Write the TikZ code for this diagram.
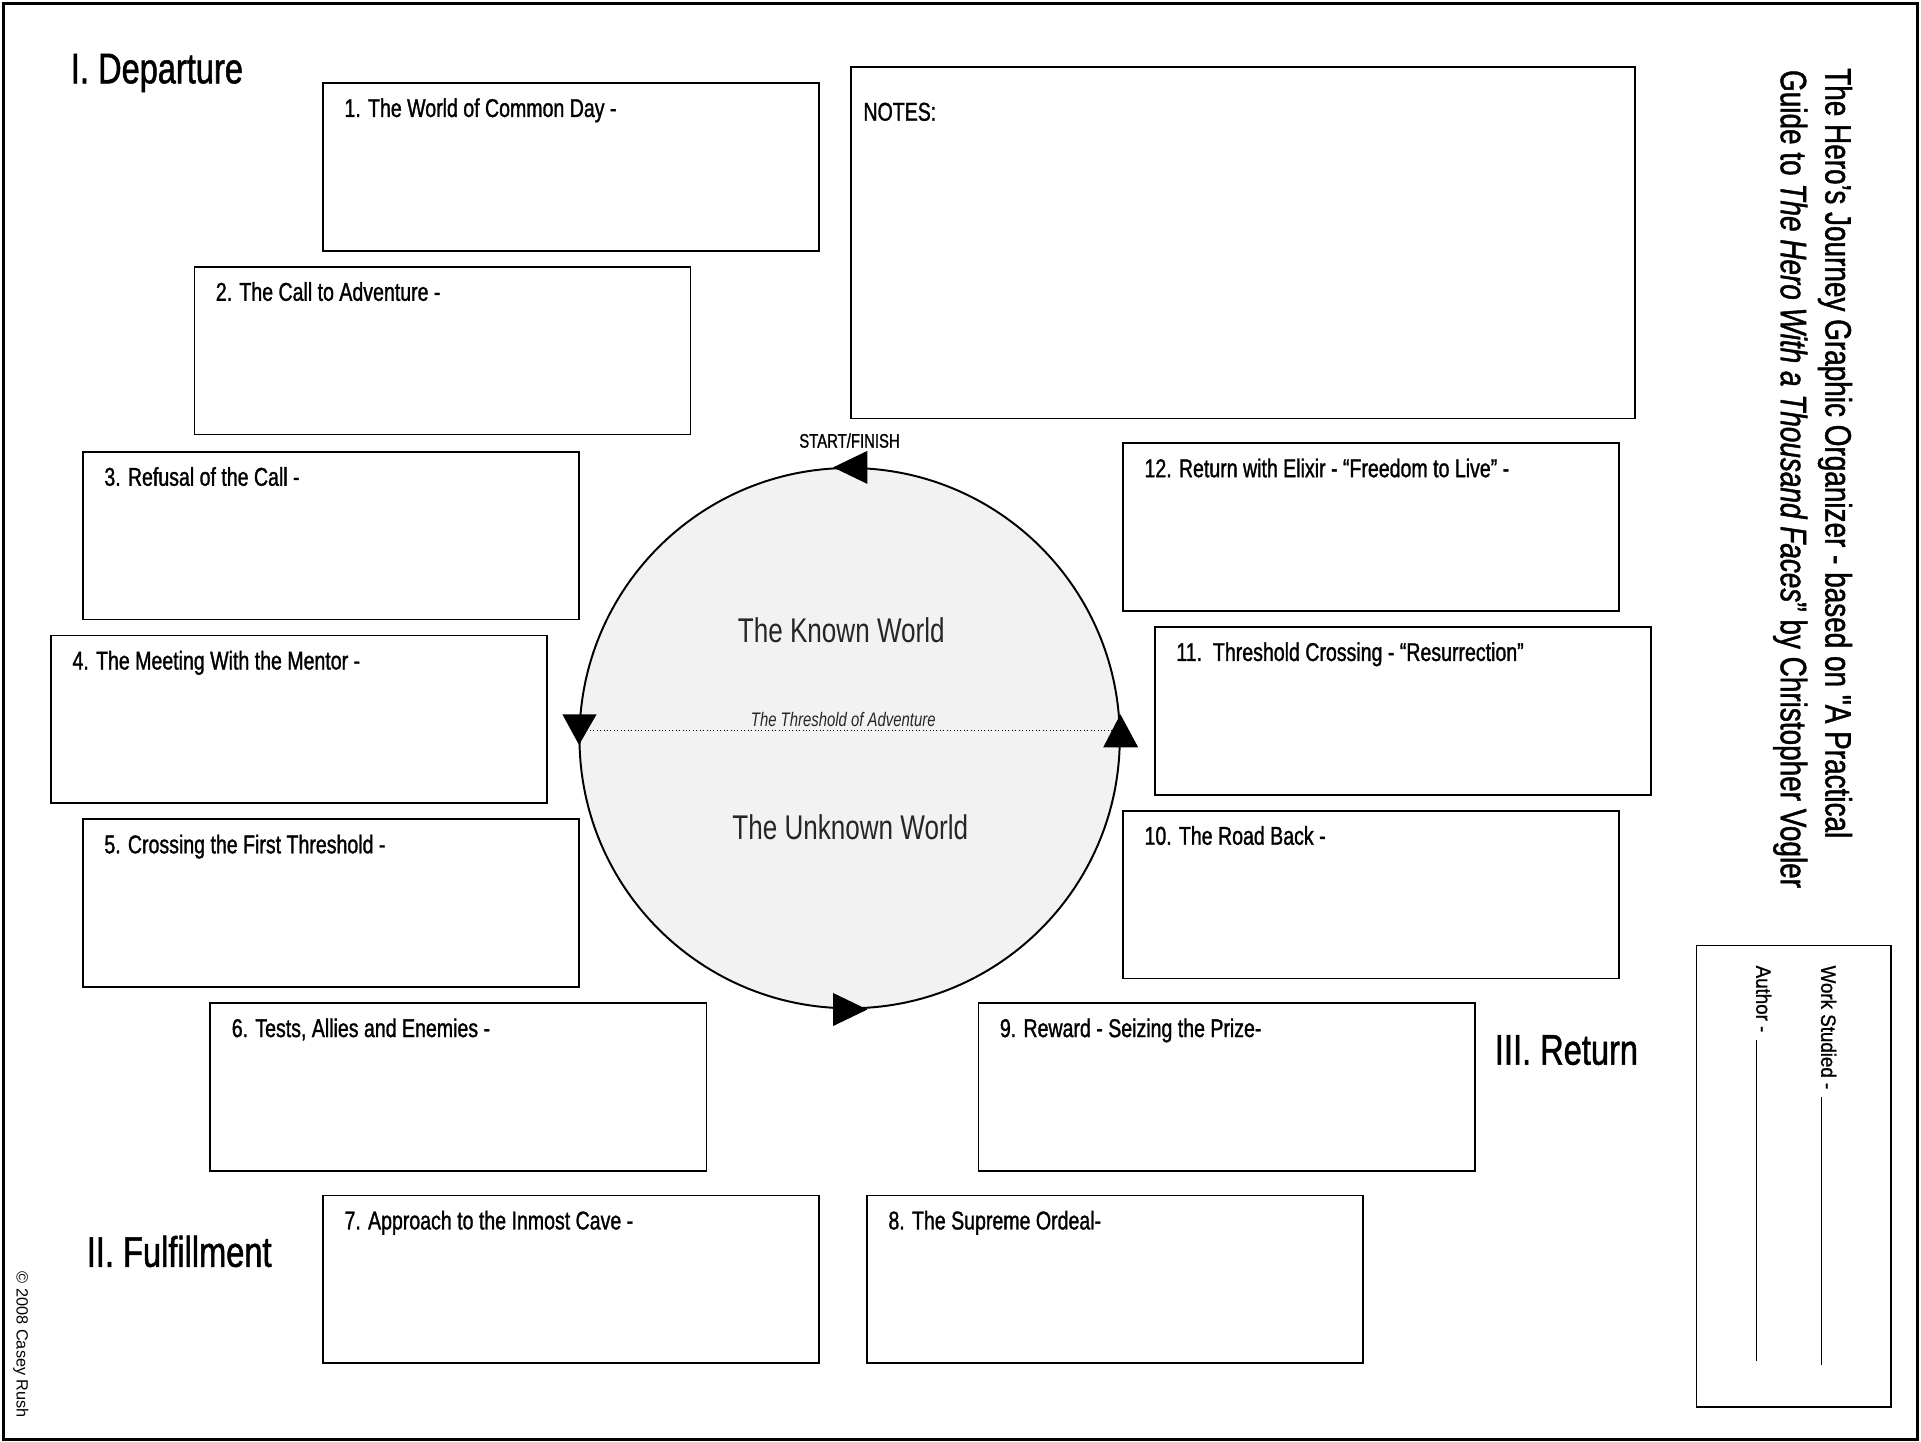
\documentclass[tikz,border=0pt]{standalone}
\usepackage{fontspec}
\setmainfont{Liberation Sans}
\newfontfamily\cnd{Liberation Sans}[FakeStretch=0.76]
\newfontfamily\cndb{Liberation Sans}[FakeStretch=0.76, FakeBold=1.2]
\newfontfamily\cndw{Liberation Sans}[FakeStretch=0.9, FakeBold=1.0]
\definecolor{circfill}{HTML}{F2F2F2}
\begin{document}
\begin{tikzpicture}[x=1pt,y=-1pt,
  stagebox/.style={draw=black, line width=1.4pt, fill=white, minimum width=405pt, minimum height=137pt, inner sep=0pt, anchor=north west},
  boxlabel/.style={anchor=base west, inner sep=0pt, font=\cndb\fontsize{21}{25}\selectfont},
  heading/.style={anchor=base west, inner sep=0pt, font=\cndb\fontsize{35}{40}\selectfont},
  vtitle/.style={rotate=-90, anchor=base west, inner sep=0pt, font=\cndb\fontsize{30}{36}\selectfont},
  vfield/.style={rotate=-90, anchor=base west, inner sep=0pt, font=\cndw\fontsize{17}{20}\selectfont},
  worldtext/.style={anchor=base, inner sep=0pt, text=black!85, font=\cnd\fontsize{28}{32}\selectfont},
  arrowhead/.style={fill=black, draw=none}
]
\useasboundingbox (0,0) rectangle (1568,1177);
% outer frame
\draw[line width=2.4pt] (3,3) rectangle (1565.5,1175);

% headings
\node[heading] (h1) at (57.7,68) {I. Departure};
\node[heading] (h2) at (70.7,1034) {II. Fulfillment};
\node[heading] (h3) at (1220,869) {III. Return};

% stage boxes
\node[stagebox] (b1) at (263,67) {};
\node[stagebox] (b2) at (158,217) {};
\node[stagebox] (b3) at (67,368) {};
\node[stagebox] (b4) at (41,518) {};
\node[stagebox] (b5) at (67,668) {};
\node[stagebox] (b6) at (171,818) {};
\node[stagebox] (b7) at (263,975) {};
\node[stagebox] (b8) at (707,975) {};
\node[stagebox] (b9) at (798,818) {};
\node[stagebox] (b10) at (916,661) {};
\node[stagebox] (b11) at (942,511) {};
\node[stagebox] (b12) at (916,361) {};

\node[boxlabel] (t1) at ([shift={(18,28.5)}]b1.north west) {1. The World of Common Day -};
\node[boxlabel] (t2) at ([shift={(18,28.5)}]b2.north west) {2. The Call to Adventure -};
\node[boxlabel] (t3) at ([shift={(18,28.5)}]b3.north west) {3. Refusal of the Call -};
\node[boxlabel] (t4) at ([shift={(18,28.5)}]b4.north west) {4. The Meeting With the Mentor -};
\node[boxlabel] (t5) at ([shift={(18,28.5)}]b5.north west) {5. Crossing the First Threshold -};
\node[boxlabel] (t6) at ([shift={(18,28.5)}]b6.north west) {6. Tests, Allies and Enemies -};
\node[boxlabel] (t7) at ([shift={(18,28.5)}]b7.north west) {7. Approach to the Inmost Cave -};
\node[boxlabel] (t8) at ([shift={(18,28.5)}]b8.north west) {8. The Supreme Ordeal-};
\node[boxlabel] (t9) at ([shift={(18,28.5)}]b9.north west) {9. Reward - Seizing the Prize-};
\node[boxlabel] (t10) at ([shift={(18,28.5)}]b10.north west) {10. The Road Back -};
\node[boxlabel] (t11) at ([shift={(18,28.5)}]b11.north west) {11.\ \ Threshold Crossing - “Resurrection”};
\node[boxlabel] (t12) at ([shift={(18,28.5)}]b12.north west) {12. Return with Elixir - “Freedom to Live” -};

% notes box
\node[draw=black, line width=1.4pt, minimum width=640pt, minimum height=287pt, inner sep=0pt, anchor=north west] (notes) at (694,54) {};
\node[boxlabel] (notestxt) at ([shift={(10.6,44.5)}]notes.north west) {NOTES:};

% circle
\node[circle, draw=black, line width=1.6pt, fill=circfill, minimum size=441pt, inner sep=0pt] (circ) at (693.5,602.5) {};
\coordinate (thl) at (473.1,596);
\coordinate (thr) at (913.9,596);
\draw[dotted, line width=0.8pt] (thl) -- (thr);

\node[worldtext] (known) at (686.7,524.6) {The Known World};
\node[worldtext] (unknown) at (694,685.5) {The Unknown World};
\node[anchor=base, inner sep=0pt, text=black!85, font=\cnd\itshape\fontsize{16}{18}\selectfont] (thresh) at (688.3,592.6) {The Threshold of Adventure};
\node[anchor=base, inner sep=0pt, font=\cndb\fontsize{16}{18}\selectfont] (start) at (693.4,365.4) {START/FINISH};

% arrowheads on the circle
\fill[arrowhead] (680,381.5) -- (708,368) -- (708,395) -- cycle;
\fill[arrowhead] (472.6,608) -- (459,583) -- (487,583) -- cycle;
\fill[arrowhead] (914.5,583) -- (900.5,610) -- (929,610) -- cycle;
\fill[arrowhead] (708,824) -- (680,810.5) -- (680,837.5) -- cycle;

% vertical title
\node[vtitle] (title1) at (1490,55.5) {The Hero’s Journey Graphic Organizer - based on "A Practical};
\node[vtitle] (title2) at (1453.5,57) {Guide to \textit{The Hero With a Thousand Faces}” by Christopher Vogler};

% work studied box
\node[draw=black, line width=1.4pt, minimum width=159pt, minimum height=377pt, inner sep=0pt, anchor=north west] (wsbox) at (1384,771) {};
\node[vfield] (ws) at (1486.5,788) {Work Studied -};
\node[vfield] (au) at (1433.5,788) {Author -};
\coordinate (wsA) at (1486.5,895);
\coordinate (wsB) at (1486.5,1114);
\coordinate (auA) at (1433.5,849);
\coordinate (auB) at (1433.5,1111);
\draw[line width=1.1pt] (wsA) -- (wsB);
\draw[line width=1.1pt] (auA) -- (auB);

% copyright
\node[rotate=-90, anchor=base west, inner sep=0pt, font=\fontsize{13.3}{15}\selectfont] (copy) at (13.6,1038) {© 2008 Casey Rush};
\end{tikzpicture}
\end{document}
